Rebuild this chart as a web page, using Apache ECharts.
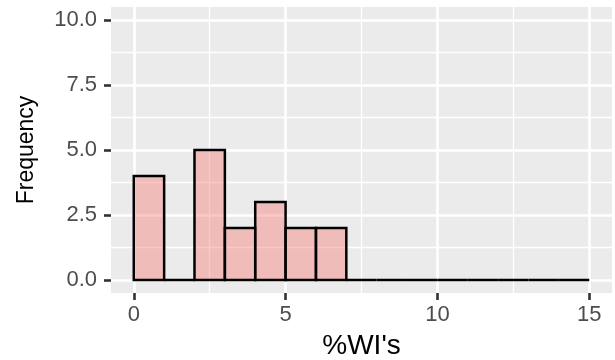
<!DOCTYPE html>
<html><head><meta charset="utf-8">
<script src="https://cdn.jsdelivr.net/npm/echarts@6/dist/echarts.min.js"></script>
<style>html,body{margin:0;padding:0;background:#fff}#c{width:615px;height:360px}</style>
</head><body><div id="c"></div>
<script>
const binStarts = [0,1,2,3,4,5,6,7,8,9,10,11,12,13,14];
const binWidth = 1;
const counts = [4,0,5,2,3,2,2,0,0,0,0,0,0,0,0];
const xTicks = [0,5,10,15];
const xMinorTicks = [2.5,7.5,12.5];
const yTicks = [0,2.5,5,7.5,10];
const yMinorTicks = [1.25,3.75,6.25,8.75];
const xTitle = "%WI's";
const yTitle = "Frequency";

const FONT = "Liberation Sans, Arial, sans-serif";
const data = binStarts.map((s,i)=>[s, s+binWidth, counts[i]]);
const chart = echarts.init(document.getElementById('c'));
const xr = {min:-0.75, max:15.75};
const yr = {min:-0.5, max:10.5};
chart.setOption({
  animation:false,
  grid:{left:111, right:3, top:7, bottom:67, show:true, backgroundColor:'#EBEBEB', borderWidth:0,
        containLabel:false, outerBoundsMode:'none'},
  xAxis:[
    {type:'value', ...xr, axisLine:{show:false, onZero:false},
     axisTick:{show:true, customValues:xTicks, length:7, lineStyle:{color:'#333', width:2.6}},
     axisLabel:{customValues:xTicks, color:'#4D4D4D', fontSize:22, fontFamily:FONT, margin:11},
     splitLine:{show:true, lineStyle:{color:'#fff', width:2.6}},
     name:xTitle, nameLocation:'middle', nameGap:39, nameTextStyle:{color:'#000', fontSize:28, fontFamily:FONT}},
    {type:'value', ...xr, axisLine:{show:false, onZero:false},
     axisTick:{show:false, customValues:xMinorTicks},
     axisLabel:{show:false, customValues:xMinorTicks},
     splitLine:{show:true, lineStyle:{color:'#fff', width:1.3}}}
  ],
  yAxis:[
    {type:'value', ...yr, axisLine:{show:false, onZero:false},
     axisTick:{show:true, customValues:yTicks, length:7, lineStyle:{color:'#333', width:2.6}},
     axisLabel:{customValues:yTicks, formatter:v=>v.toFixed(1), color:'#4D4D4D', fontSize:22, fontFamily:FONT, margin:14},
     splitLine:{show:true, lineStyle:{color:'#fff', width:2.6}},
     name:yTitle, nameLocation:'middle', nameGap:73, nameTextStyle:{color:'#000', fontSize:23, fontFamily:FONT}},
    {type:'value', ...yr, axisLine:{show:false, onZero:false},
     axisTick:{show:false, customValues:yMinorTicks},
     axisLabel:{show:false, customValues:yMinorTicks},
     splitLine:{show:true, lineStyle:{color:'#fff', width:1.3}}}
  ],
  series:[{
    type:'custom', xAxisIndex:0, yAxisIndex:0, data:data,
    renderItem:function(params, api){
      const p0 = api.coord([api.value(0), api.value(2)]);
      const p1 = api.coord([api.value(1), 0]);
      return {type:'rect', shape:{x:p0[0], y:p0[1], width:p1[0]-p0[0], height:p1[1]-p0[1]},
        style:{fill:'rgba(248,118,109,0.4)', stroke:'#000', lineWidth:2.5}};
    }
  }]
});
</script></body></html>
